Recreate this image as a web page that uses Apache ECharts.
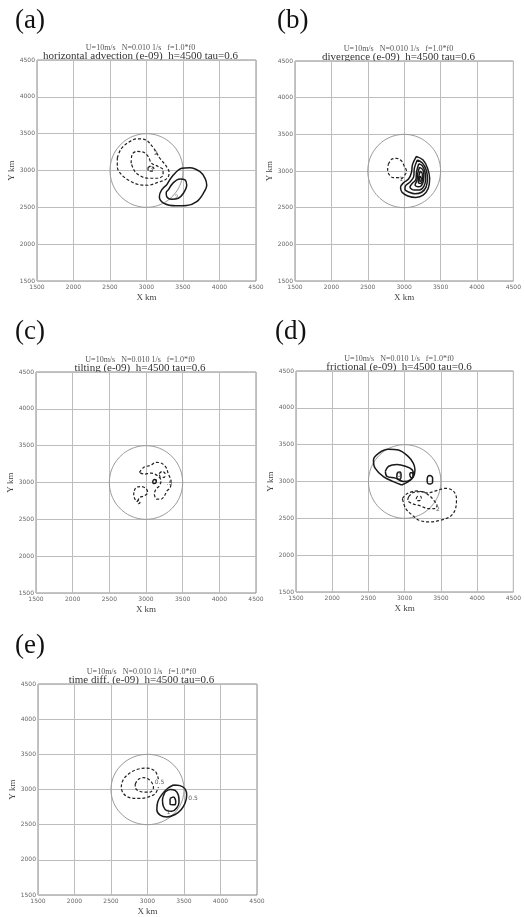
<!DOCTYPE html>
<html>
<head>
<meta charset="utf-8">
<title>vorticity budget terms</title>
<script src="https://cdn.jsdelivr.net/npm/echarts@6/dist/echarts.min.js"></script>
<style>
  html, body { margin: 0; padding: 0; background: #fff; }
  #chart { width: 524px; height: 917px; }
</style>
</head>
<body>
<div id="chart"></div>
<script>
    'use strict';

    // axes (km)
    var axisTicks = [1500, 2000, 2500, 3000, 3500, 4000, 4500];
    var circleCenter = [3000, 3000];
    var circleRadius = 500;

    var panelLetters = ['(a)', '(b)', '(c)', '(d)', '(e)'];
    var runInfo = 'U=10m/s   N=0.010 1/s   f=1.0*f0';
    var panelTitles = [
        'horizontal advection (e-09)  h=4500 tau=0.6',
        'divergence (e-09)  h=4500 tau=0.6',
        'tilting (e-09)  h=4500 tau=0.6',
        'frictional (e-09)  h=4500 tau=0.6',
        'time diff. (e-09)  h=4500 tau=0.6'
    ];

    // (a) horizontal advection
    var advNeg = [
        [[2600,3170],[2650,3290],[2750,3380],[2870,3430],[2980,3420],[3100,3300],[3180,3170],[3270,3060],[3310,2970],[3280,2890],[3160,2840],[3020,2800],[2890,2810],[2770,2860],[2660,2940],[2600,3050],[2600,3170]],
        [[2790,3100],[2800,3210],[2864,3259],[2955,3250],[3023,3191],[3068,3100],[3159,3055],[3227,3009],[3227,2941],[3159,2895],[3023,2895],[2932,2918],[2841,2986],[2790,3100]],
        [[3020,3040],[3060,3060],[3100,3030],[3080,2990],[3030,2990],[3020,3040]]
    ];
    var advPos = [
        [[3277,2804],[3368,2939],[3482,3030],[3596,3039],[3733,2984],[3802,2894],[3825,2804],[3779,2691],[3688,2578],[3551,2525],[3400,2520],[3240,2555],[3176,2645],[3208,2736],[3277,2804]],
        [[3299,2736],[3368,2835],[3459,2885],[3528,2872],[3551,2804],[3505,2691],[3436,2623],[3345,2610],[3277,2645],[3270,2700],[3299,2736]]
    ];
    var advLabels = [[3130,3225,'2'], [3410,2640,'2'], [3070,3020,'3']];

    // (b) divergence
    var divNeg = [
        [[2782,3091],[2827,3159],[2895,3173],[2964,3136],[3000,3068],[3032,3000],[3000,2932],[2955,2895],[2918,2909],[2850,2909],[2791,2955],[2773,3023],[2782,3091]]
    ];
    var divPos = [
        [[3168,3200],[3260,3150],[3320,3040],[3350,2900],[3330,2760],[3260,2670],[3160,2640],[3050,2660],[2970,2710],[2950,2780],[2990,2840],[3060,2890],[3100,2980],[3115,3090],[3168,3200]],
        [[3180,3150],[3250,3110],[3300,3020],[3320,2900],[3300,2780],[3240,2710],[3150,2690],[3070,2710],[3010,2750],[3020,2800],[3080,2850],[3130,2920],[3140,3040],[3180,3150]],
        [[3200,3100],[3250,3070],[3285,2990],[3295,2890],[3270,2790],[3210,2740],[3140,2740],[3080,2780],[3110,2830],[3160,2880],[3170,2990],[3200,3100]],
        [[3210,3050],[3255,3020],[3270,2950],[3265,2870],[3235,2800],[3190,2785],[3150,2810],[3175,2870],[3185,2960],[3210,3050]],
        [[3220,3000],[3250,2960],[3250,2880],[3225,2830],[3195,2840],[3200,2920],[3220,3000]],
        [[3215,2930],[3235,2900],[3225,2860],[3205,2870],[3215,2930]]
    ];
    var divLabels = [[2960,2890,'1']];

    // (c) tilting
    var tiltNeg = [
        [[2909,3136],[2968,3205],[3068,3236],[3136,3273],[3205,3264],[3273,3205],[3305,3114],[3341,3023],[3332,2932],[3286,2886],[3250,2818],[3205,2773],[3150,2773],[3114,2841],[3136,2909],[3182,2955],[3205,3023],[3159,3091],[3068,3127],[2977,3114],[2909,3136]],
        [[2841,2886],[2864,2932],[2932,2945],[3000,2918],[3023,2864],[2977,2818],[2909,2795],[2886,2750],[2850,2773],[2832,2841],[2841,2886]],
        [[3180,3120],[3220,3150],[3260,3120],[3250,3070],[3200,3070],[3180,3120]],
        [[2875,2735],[2895,2760],[2920,2740],[2900,2712],[2875,2735]]
    ];
    var tiltPos = [
        [[3090,3010],[3110,3040],[3140,3030],[3135,2995],[3100,2985],[3090,3010]]
    ];
    var tiltLabels = [[3320,2990,'.5']];

    // (d) frictional
    var fricNeg = [
        [[2968,2769],[3037,2837],[3174,2872],[3312,2845],[3426,2872],[3564,2908],[3670,2872],[3715,2769],[3702,2633],[3633,2528],[3495,2474],[3339,2451],[3198,2474],[3106,2542],[3014,2633],[2968,2769]],
        [[3055,2793],[3124,2853],[3239,2862],[3331,2816],[3400,2747],[3446,2678],[3423,2632],[3331,2632],[3216,2669],[3101,2701],[3041,2747],[3055,2793]],
        [[3160,2770],[3180,2800],[3220,2800],[3230,2765],[3200,2740],[3165,2745],[3160,2770]]
    ];
    var fricPos = [
        [[2959,2953],[2844,2998],[2706,3066],[2591,3180],[2569,3292],[2638,3383],[2775,3438],[2913,3428],[3051,3338],[3120,3247],[3142,3157],[3120,3066],[3051,2998],[2959,2953]],
        [[2733,3138],[2779,3207],[2894,3230],[3009,3207],[3101,3161],[3124,3092],[3078,3023],[2986,3000],[2871,3046],[2756,3069],[2733,3138]],
        [[2890,3080],[2905,3125],[2935,3130],[2950,3080],[2935,3030],[2905,3030],[2890,3080]],
        [[3070,3080],[3080,3120],[3110,3120],[3115,3070],[3090,3050],[3070,3080]],
        [[3310,3020],[3320,3070],[3350,3080],[3385,3050],[3385,2990],[3350,2965],[3315,2980],[3310,3020]]
    ];
    var fricLabels = [[2920,3080,'0'], [3460,2625,'2']];

    // (e) time difference
    var timeNeg = [
        [[3150,3146],[3105,3259],[2991,3305],[2877,3291],[2763,3237],[2672,3146],[2641,3032],[2672,2941],[2763,2882],[2900,2873],[3014,2895],[3105,2941],[3150,3032]],
        [[2832,3077],[2877,3146],[2945,3168],[3014,3146],[3059,3100],[3082,3032],[3036,2964],[2945,2964],[2868,2986],[2832,3032],[2832,3077]]
    ];
    var timePos = [
        [[3355,3064],[3446,3055],[3514,3009],[3537,2918],[3514,2804],[3460,2713],[3378,2645],[3264,2609],[3173,2636],[3128,2713],[3141,2827],[3196,2927],[3278,3018],[3355,3064]],
        [[3241,2964],[3309,3000],[3378,2986],[3423,2918],[3432,2827],[3400,2736],[3332,2691],[3264,2700],[3218,2759],[3205,2850],[3241,2964]],
        [[3309,2873],[3355,2895],[3387,2827],[3369,2782],[3309,2791],[3309,2873]]
    ];
    var timeLabels = [[3165,3095,'0.5'], [3625,2875,'0.5'], [3285,2675,'1']];

    var panelNeg = [advNeg, divNeg, tiltNeg, fricNeg, timeNeg];
    var panelPos = [advPos, divPos, tiltPos, fricPos, timePos];
    var panelLabels = [advLabels, divLabels, tiltLabels, fricLabels, timeLabels];

    // layout of the five plot boxes (px)
    var boxes = [
        { left: 37, top: 60, width: 219, height: 221 },
        { left: 295, top: 61, width: 219, height: 220 },
        { left: 36, top: 372, width: 220, height: 221 },
        { left: 296, top: 371, width: 218, height: 221 },
        { left: 38, top: 684, width: 219, height: 220 }
    ];
    var letterPos = [[15, 21], [277, 21], [15, 332], [275, 332], [15, 646]];

    function circlePoints() {
        var pts = [];
        for (var k = 0; k <= 90; k++) {
            var a = k / 90 * Math.PI * 2;
            pts.push([circleCenter[0] + circleRadius * Math.cos(a), circleCenter[1] + circleRadius * Math.sin(a)]);
        }
        return pts;
    }

    function contourSeries(idx, pts, dashed) {
        return {
            type: 'line',
            xAxisIndex: idx,
            yAxisIndex: idx,
            data: pts,
            showSymbol: false,
            symbol: 'none',
            smooth: 0.35,
            silent: true,
            z: 3,
            lineStyle: dashed
                ? { color: '#222', width: 1.2, type: [3, 2] }
                : { color: '#1a1a1a', width: 1.5 }
        };
    }

    function plainTick(v) {
        return String(v);
    }

    var grids = [], xAxes = [], yAxes = [], series = [], graphics = [];
    var serif = '"Liberation Serif", "DejaVu Serif", serif';

    boxes.forEach(function (b, i) {
        grids.push({ left: b.left, top: b.top, width: b.width, height: b.height,
            show: true, borderColor: '#8a8a8a', borderWidth: 1, containLabel: false });

        xAxes.push({
            type: 'value', gridIndex: i,
            min: axisTicks[0], max: axisTicks[axisTicks.length - 1], interval: 500,
            axisLine: { show: false }, axisTick: { show: false },
            axisLabel: { fontSize: 6, color: '#666', margin: 3, fontFamily: 'DejaVu Sans', formatter: plainTick },
            splitLine: { show: true, lineStyle: { color: '#bdbdbd', width: 1 } },
            name: 'X km', nameLocation: 'middle', nameGap: 12,
            nameTextStyle: { fontSize: 9, color: '#444', fontFamily: serif }
        });
        yAxes.push({
            type: 'value', gridIndex: i,
            min: axisTicks[0], max: axisTicks[axisTicks.length - 1], interval: 500,
            axisLine: { show: false }, axisTick: { show: false },
            axisLabel: { fontSize: 6, color: '#666', margin: 2, fontFamily: 'DejaVu Sans', formatter: plainTick },
            splitLine: { show: true, lineStyle: { color: '#bdbdbd', width: 1 } },
            name: 'Y km', nameLocation: 'middle', nameGap: 21, nameRotate: 90,
            nameTextStyle: { fontSize: 9, color: '#444', fontFamily: serif }
        });

        series.push({
            type: 'line', xAxisIndex: i, yAxisIndex: i, data: circlePoints(),
            showSymbol: false, symbol: 'none', silent: true, z: 2,
            lineStyle: { color: '#999', width: 1 }
        });
        panelNeg[i].forEach(function (c) { series.push(contourSeries(i, c, true)); });
        panelPos[i].forEach(function (c) { series.push(contourSeries(i, c, false)); });
        series.push({
            type: 'scatter', xAxisIndex: i, yAxisIndex: i, data: panelLabels[i],
            symbolSize: 0, silent: true, z: 4,
            label: { show: true, position: 'inside', fontSize: 6, color: '#333',
                fontFamily: 'DejaVu Sans', formatter: function (p) { return p.value[2]; } }
        });

        var cx = b.left + b.width / 2 - 6;
        graphics.push({ type: 'text', x: cx, y: b.top - 12,
            style: { text: runInfo, fontSize: 8, fontFamily: serif, fill: '#555', align: 'center', verticalAlign: 'middle' } });
        graphics.push({ type: 'text', x: cx, y: b.top - 4,
            style: { text: panelTitles[i], fontSize: 11, fontFamily: serif, fill: '#333', align: 'center', verticalAlign: 'middle' } });
        graphics.push({ type: 'text', x: letterPos[i][0], y: letterPos[i][1],
            style: { text: panelLetters[i], fontSize: 27, fontFamily: serif, fill: '#111', align: 'left', verticalAlign: 'middle' } });
    });

    var chart = echarts.init(document.getElementById('chart'), null, { renderer: 'canvas' });
    chart.setOption({
        animation: false,
        backgroundColor: '#fff',
        grid: grids,
        xAxis: xAxes,
        yAxis: yAxes,
        series: series,
        graphic: graphics
    });
</script>
</body>
</html>
